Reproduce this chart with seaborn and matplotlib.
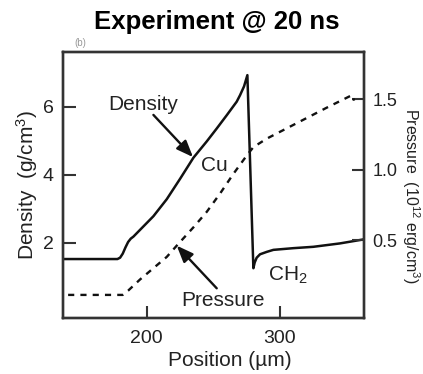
import matplotlib
matplotlib.use("Agg")
import matplotlib.pyplot as plt
import seaborn as sns
import pandas as pd

# Density profile (g/cm^3) along position (um)
density_pos = [137, 178, 180, 182, 184, 186, 188, 190, 195, 205, 215, 225,
               235, 245, 252.5, 260, 267.5, 270, 273, 275.5, 280, 281,
               282.5, 285, 290, 295, 310, 325, 345, 363]
density = [1.52, 1.52, 1.56, 1.68, 1.86, 2.02, 2.12, 2.18, 2.38, 2.78, 3.28,
           3.88, 4.50, 4.98, 5.36, 5.75, 6.15, 6.34, 6.60, 6.93, 1.25, 1.42,
           1.56, 1.66, 1.73, 1.79, 1.84, 1.88, 1.98, 2.10]

# Pressure profile (10^12 erg/cm^3) along position (um)
pressure_pos = [141, 182, 186, 195, 205, 215, 222.5, 235, 245, 255, 265, 275,
                280, 290, 312.5, 335, 352, 354.5, 355.5]
pressure = [0.11, 0.11, 0.14, 0.22, 0.30, 0.38, 0.46, 0.59, 0.70, 0.83, 0.97,
            1.10, 1.16, 1.22, 1.33, 1.44, 1.52, 1.53, 1.49]

x_ticks = [200, 300]
density_ticks = [2, 4, 6]
pressure_ticks = [0.5, 1.0, 1.5]
pressure_tick_labels = ["0.5", "1.0", "1.5"]

dens_df = pd.DataFrame({"position": density_pos, "density": density})
pres_df = pd.DataFrame({"position": pressure_pos, "pressure": pressure})

sns.set_style("ticks")
plt.rcParams["font.family"] = ["Liberation Sans", "DejaVu Sans"]
plt.rcParams["mathtext.fontset"] = "custom"
plt.rcParams["mathtext.rm"] = "Liberation Sans"
plt.rcParams["mathtext.it"] = "Liberation Sans"
plt.rcParams["mathtext.sf"] = "Liberation Sans"
plt.rcParams["mathtext.default"] = "rm"

INK = "#111111"
TXT = "#222222"
SPINE = "#333333"

fig = plt.figure(figsize=(4.23, 3.74), dpi=100)
ax = fig.add_axes([0.1497, 0.1505, 0.8605 - 0.1497, 0.8618 - 0.1505])
ax2 = ax.twinx()

sns.lineplot(data=dens_df, x="position", y="density", ax=ax, color=INK,
             lw=1.8, sort=False, estimator=None)
sns.lineplot(data=pres_df, x="position", y="pressure", ax=ax2, color=INK,
             lw=1.7, sort=False, estimator=None, dashes=False)
ax2.lines[0].set_dashes((2.6, 2.6))

ax.set_xlim(137.4, 363.0)
ax.set_ylim(-0.206, 7.62)
ax2.set_ylim(-0.052, 1.838)

ax.set_xticks(x_ticks)
ax.set_yticks(density_ticks)
ax2.set_yticks(pressure_ticks)
ax2.set_yticklabels(pressure_tick_labels)

ax.set_xlabel("")
ax.set_ylabel("")
ax2.set_ylabel("")

for a in (ax, ax2):
    for s in a.spines.values():
        s.set_color(SPINE)
        s.set_linewidth(1.7)
        s.set_visible(True)

ax.tick_params(axis="both", direction="in", length=9, width=1.5,
               colors=SPINE, labelcolor=TXT, labelsize=14, pad=7)
ax.tick_params(axis="x", pad=9)
ax.tick_params(top=False, right=False)
ax2.tick_params(axis="y", direction="in", length=9, width=1.5,
                colors=SPINE, labelcolor=TXT, labelsize=13, pad=6)

# Arrows pointing to each curve
arrow_kw = dict(arrowstyle="-|>,head_length=0.5,head_width=0.2",
                color=INK, lw=1.7, mutation_scale=20, shrinkA=0, shrinkB=0)
ax.annotate("", xy=(234.7, 4.52), xytext=(205, 5.76), arrowprops=arrow_kw)
ax2.annotate("", xy=(222.5, 0.46), xytext=(252.5, 0.157), arrowprops=arrow_kw)

ax.text(197.5, 6.08, "Density", fontsize=15, color=TXT, ha="center", va="center")
ax.text(250.5, 4.26, "Cu", fontsize=15, color=TXT, ha="center", va="center")
ax.text(306, 1.05, "CH$_2$", fontsize=15, color=TXT, ha="center", va="center")
ax.text(257, 0.31, "Pressure", fontsize=15, color=TXT, ha="center", va="center")

fig.text(216.5 / 423, 1 - 29 / 374, "Experiment @ 20 ns", fontsize=18.5,
         fontweight="bold", color="black", ha="center", va="baseline")
fig.text(80 / 423, 1 - 43 / 374, "(b)", fontsize=7, color="#999999",
         ha="center", va="center")
fig.text(230 / 423, 1 - 360 / 374, "Position (µm)", fontsize=15, color=TXT,
         ha="center", va="center")
fig.text(27 / 423, 1 - 185 / 374, "Density  (g/cm$^3$)", fontsize=15,
         color=TXT, rotation=90, ha="center", va="center")
fig.text(422 / 423, 1 - 195.5 / 374, "Pressure  (10$^{12}$ erg/cm$^3$)",
         fontsize=11.5, color=TXT, rotation=270, ha="right", va="center")

fig.savefig("out.png", dpi=100)
